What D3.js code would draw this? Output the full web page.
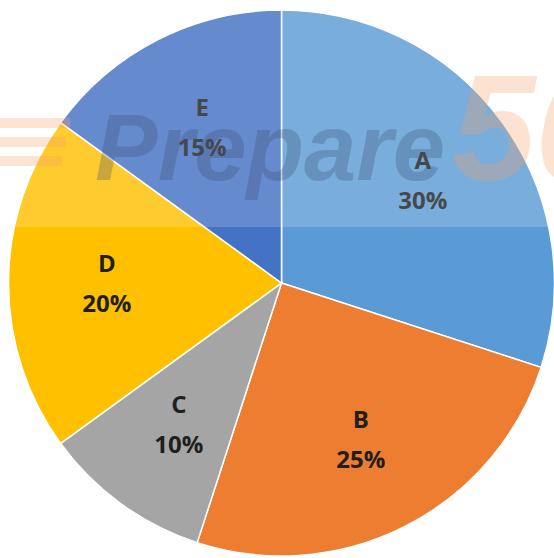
<!DOCTYPE html>
<html><head><meta charset="utf-8">
<script src="https://cdn.jsdelivr.net/npm/d3@7"></script>
<style>html,body{margin:0;padding:0;background:#fff;}svg{display:block;}</style>
</head><body>
<script>
const categories = ["A", "B", "C", "D", "E"];
const values = [30, 25, 10, 20, 15];
const colors = ["#5b9bd5", "#ed7d31", "#a5a5a5", "#ffc000", "#4472c4"];

const W = 554, H = 558;
const cx = 281.5, cy = 283, R = 273;

const svg = d3.select("body").append("svg").attr("width", W).attr("height", H);
const g = svg.append("g").attr("transform", `translate(${cx},${cy})`);

const data = categories.map((c, i) => ({ cat: c, value: values[i], color: colors[i] }));
const pie = d3.pie().value(d => d.value).sort(null);
const arc = d3.arc().innerRadius(0).outerRadius(R);
const total = d3.sum(values);
const labelArc = d3.arc().innerRadius(R * 0.64).outerRadius(R * 0.64);

const arcs = pie(data);
g.selectAll("path.slice").data(arcs).join("path")
  .attr("class", "slice")
  .attr("d", arc)
  .attr("fill", d => d.data.color)
  .attr("stroke", "#fff")
  .attr("stroke-width", 1.5);

const lbl = g.selectAll("text.lbl").data(arcs).join("text")
  .attr("class", "lbl")
  .attr("transform", d => `translate(${labelArc.centroid(d)})`)
  .attr("text-anchor", "middle")
  .attr("font-family", "'Open Sans', 'Liberation Sans', sans-serif")
  .attr("font-weight", "bold")
  .attr("font-size", 24)
  .attr("fill", "#1f1f1f");
lbl.append("tspan").attr("x", 0).attr("y", -11).text(d => d.data.cat);
lbl.append("tspan").attr("x", 0).attr("y", 29).text(d => Math.round(d.data.value / total * 100) + "%");

// watermark overlay
const wm = svg.append("g").attr("pointer-events", "none");
wm.append("rect").attr("x", 0).attr("y", 0).attr("width", W).attr("height", 227)
  .attr("fill", "#fff").attr("opacity", 0.18);
[118, 137, 156].forEach((y, i) => {
  wm.append("rect").attr("x", 0).attr("y", y).attr("width", 70 - i * 4).attr("height", 10)
    .attr("fill", "#f7a36a").attr("opacity", 0.3);
});
wm.append("text").attr("x", 95).attr("y", 180)
  .attr("font-family", "'Liberation Sans', Arial, sans-serif")
  .attr("font-weight", "bold").attr("font-style", "italic")
  .attr("font-size", 94).attr("fill", "#3b4a6b").attr("opacity", 0.28)
  .text("Prepare");
wm.append("text").attr("x", 452).attr("y", 180)
  .attr("font-family", "'Liberation Sans', Arial, sans-serif")
  .attr("font-weight", "bold").attr("font-style", "italic")
  .attr("font-size", 150).attr("fill", "#f4a26a").attr("opacity", 0.3)
  .text("50");
</script>
</body></html>
